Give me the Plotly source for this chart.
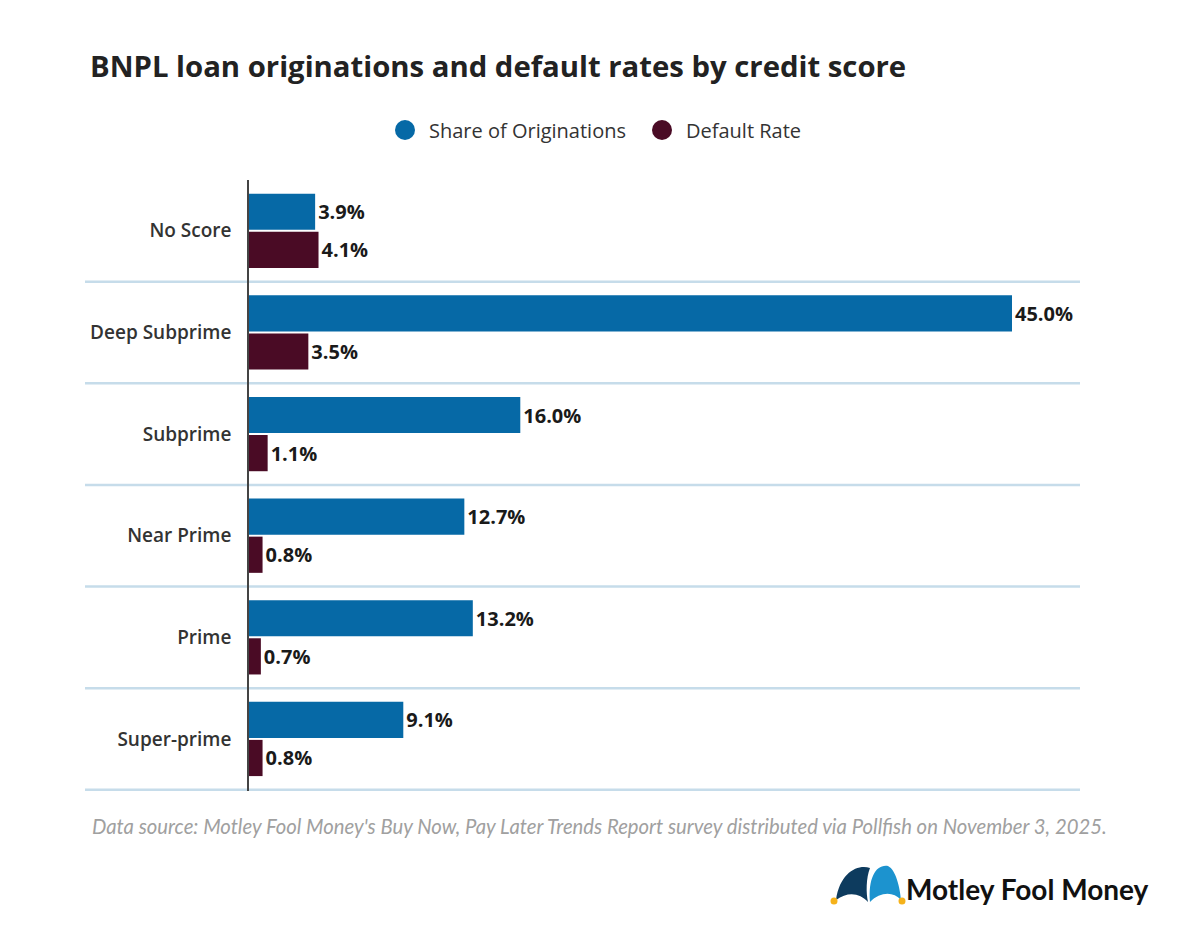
import plotly.graph_objects as go

categories = ["No Score", "Deep Subprime", "Subprime", "Near Prime", "Prime", "Super-prime"]
share_of_originations = [3.9, 45.0, 16.0, 12.7, 13.2, 9.1]
default_rate = [4.1, 3.5, 1.1, 0.8, 0.7, 0.8]
series_names = ["Share of Originations", "Default Rate"]

BLUE = "#0669a6"
MAROON = "#4a0b25"
W, H = 1200, 939
OFF = 8  # page body margin
SL, SR, ST, SB = 249, 1080, 180, 791  # plot area in screenshot pixels
PW, PH = SR - SL, SB - ST
FONT = "Open Sans"


def px(x):
    return (x - SL) / PW


def py(y):
    return (SB - y) / PH


fig = go.Figure()
for name, vals, col in [(series_names[0], share_of_originations, BLUE),
                        (series_names[1], default_rate, MAROON)]:
    fig.add_trace(go.Bar(
        y=categories, x=vals, orientation="h", name=name,
        marker=dict(color=col, line=dict(width=0)),
        text=[f"{v:.1f}%" for v in vals], textposition="outside",
        textfont=dict(family=FONT, size=20, color="#1a1a1a", weight="bold"),
        cliponaxis=False, showlegend=False,
    ))

shapes = []
for i in range(len(categories)):
    shapes.append(dict(type="line", xref="paper", yref="y",
                       x0=px(85), x1=px(1080), y0=i + 0.5, y1=i + 0.5,
                       line=dict(color="#c6dcea", width=2.5), layer="below"))

# manual legend
legend_items = [(series_names[0], BLUE, 405, 427), (series_names[1], MAROON, 662, 684)]
annotations = []
for name, col, cx, tx in legend_items:
    shapes.append(dict(type="circle", xref="paper", yref="paper",
                       x0=px(cx - 10), x1=px(cx + 10), y0=py(140), y1=py(120),
                       fillcolor=col, line=dict(width=0)))
    annotations.append(dict(text=name, xref="paper", yref="paper", x=px(tx), y=py(130),
                            xanchor="left", yanchor="middle", showarrow=False,
                            font=dict(family=FONT, size=20, color="#333333")))

# logo hat
shapes.append(dict(type="path", xref="paper", yref="paper",
                   path=f"M {px(836)},{py(900)} C {px(840)},{py(872)} {px(858)},{py(864)} {px(870)},{py(868)} "
                        f"C {px(866)},{py(878)} {px(866)},{py(893)} {px(868)},{py(902)} "
                        f"C {px(860)},{py(893)} {px(848)},{py(891)} {px(836)},{py(900)} Z",
                   fillcolor="#0d3b5e", line=dict(width=0)))
shapes.append(dict(type="path", xref="paper", yref="paper",
                   path=f"M {px(870)},{py(902)} C {px(868)},{py(878)} {px(876)},{py(864)} {px(888)},{py(866)} "
                        f"C {px(896)},{py(870)} {px(900)},{py(888)} {px(901)},{py(900)} "
                        f"C {px(893)},{py(891)} {px(880)},{py(892)} {px(870)},{py(902)} Z",
                   fillcolor="#1c93cf", line=dict(width=0)))
for cx in (834, 902):
    shapes.append(dict(type="circle", xref="paper", yref="paper",
                       x0=px(cx - 3.5), x1=px(cx + 3.5), y0=py(904.5), y1=py(897.5),
                       fillcolor="#f5b21b", line=dict(width=0)))

annotations += [
    dict(text="<i>Data source: Motley Fool Money's Buy Now, Pay Later Trends Report survey distributed via Pollfish on November 3, 2025.</i>",
         xref="paper", yref="paper", x=px(90), y=py(826), xanchor="left", yanchor="middle",
         showarrow=False, font=dict(family="Lato", size=20.3, color="#a0a0a0")),
    dict(text="<b>Motley Fool Money</b>", xref="paper", yref="paper",
         x=px(904), y=py(889), xanchor="left", yanchor="middle",
         showarrow=False, font=dict(family="Lato", size=28, color="#111111")),
]

fig.update_layout(
    width=W, height=H,
    margin=dict(l=SL - OFF, r=W - (SR - OFF), t=ST - OFF, b=H - (SB - OFF)),
    paper_bgcolor="white", plot_bgcolor="white",
    barmode="group", bargap=0.25, bargroupgap=0.05,
    font=dict(family=FONT, color="#333333"),
    showlegend=False,
    title=dict(text="<b>BNPL loan originations and default rates by credit score</b>",
               x=(90 - OFF) / W, xref="container", xanchor="left",
               y=1 - (67 - OFF) / H, yref="container", yanchor="middle",
               font=dict(family=FONT, size=29.3, color="#222222")),
    xaxis=dict(range=[0, PW / (1012 - SL) * 45.0], showgrid=False, zeroline=False,
               showticklabels=False, ticks="", showline=False, fixedrange=True),
    yaxis=dict(autorange="reversed", showgrid=False, zeroline=False,
               showline=True, linecolor="#444444", linewidth=1.5,
               ticks="", ticklabelstandoff=12,
               tickfont=dict(family=FONT, size=19, color="#333333", weight=600)),
    shapes=shapes,
    annotations=annotations,
)

fig.write_html("out.html")
